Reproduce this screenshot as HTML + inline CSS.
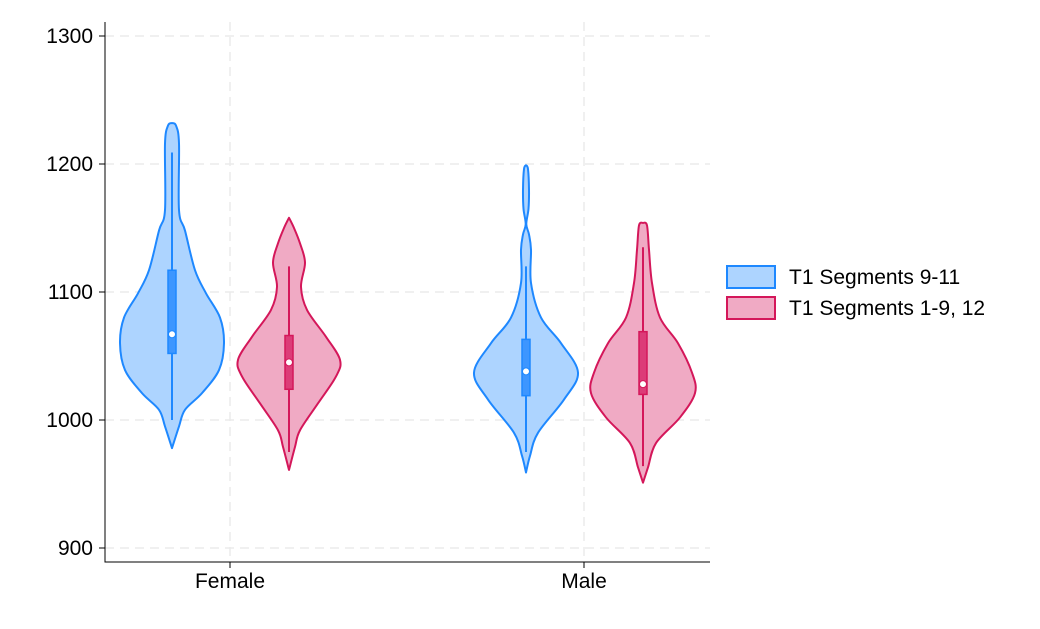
<!DOCTYPE html>
<html><head><meta charset="utf-8"><style>
body{margin:0;background:#fff;font-family:"Liberation Sans",Arial,sans-serif}
svg text{font-family:"Liberation Sans",Arial,sans-serif}
</style></head><body>
<svg id="chart" width="1040" height="624"></svg>
<script>
const categories=["Female","Male"];
const seriesNames=["T1 Segments 9-11","T1 Segments 1-9, 12"];
const yTicks=[900,1000,1100,1200,1300];
// density profiles: [value, half-width]
const femaleBlueDensity=[[1232,0],[1230,4],[1216,7],[1164,7],[1148,13],[1117,23],[1099,34],[1080,48],[1060,52],[1039,47],[1021,30],[1008,13],[995,7],[978,0]];
const femalePinkDensity=[[1158,0],[1150,5],[1138,11],[1123,16],[1104,12],[1086,18],[1065,37],[1047,51],[1034,47],[1013,29],[992,11],[979,6],[961,0]];
const maleBlueDensity=[[1199,0],[1196,2],[1180,3],[1165,2.5],[1153,0.3],[1145,3],[1133,5],[1107,5],[1080,15],[1060,35],[1037,52],[1016,38],[990,12],[972,4],[959,0]];
const malePinkDensity=[[1154,0],[1152,4],[1133,6],[1107,9],[1080,17],[1060,35],[1037,49],[1021,52],[1002,37],[982,13],[963,5],[951,0]];
// box stats: [whiskerLow, q1, median, q3, whiskerHigh]
const femaleBlueBox=[1000,1052,1067,1117,1209];
const femalePinkBox=[975,1024,1045,1066,1120];
const maleBlueBox=[975,1019,1038,1063,1120];
const malePinkBox=[964,1020,1028,1069,1135];

const svg=document.getElementById('chart');
const NS='http://www.w3.org/2000/svg';
const y=v=>36+(1300-v)*1.28;
const xCat=i=>[230,584][i];
const off=[-58,59];
const FS=21;
function mk(t,a,p){const e=document.createElementNS(NS,t);for(const k in a)e.setAttribute(k,a[k]);(p||svg).appendChild(e);return e;}
function smooth(pts){let d='';for(let i=0;i<pts.length-1;i++){const p0=pts[Math.max(i-1,0)],p1=pts[i],p2=pts[i+1],p3=pts[Math.min(i+2,pts.length-1)];
const c1=[p1[0]+(p2[0]-p0[0])/6,p1[1]+(p2[1]-p0[1])/6],c2=[p2[0]-(p3[0]-p1[0])/6,p2[1]-(p3[1]-p1[1])/6];
d+=' C'+c1[0]+' '+c1[1]+' '+c2[0]+' '+c2[1]+' '+p2[0]+' '+p2[1];}return d;}
yTicks.forEach(v=>{const g=mk('line',{x1:105,x2:710,y1:y(v),y2:y(v),stroke:'#ebebeb','stroke-width':1.5,'stroke-dasharray':'9,6'});


const tk=mk('line',{x1:99,x2:105,y1:y(v),y2:y(v),stroke:'#000'});


const t=mk('text',{x:93,y:y(v)+7,'text-anchor':'end','font-size':FS});t.textContent=v;

});
categories.forEach((c,i)=>{const g=mk('line',{x1:xCat(i),x2:xCat(i),y1:22,y2:562,stroke:'#ebebeb','stroke-width':1.5,'stroke-dasharray':'9,6'});


const tk=mk('line',{x1:xCat(i),x2:xCat(i),y1:562,y2:568,stroke:'#000'});


const t=mk('text',{x:xCat(i),y:588,'text-anchor':'middle','font-size':FS});t.textContent=c;

});
const ax=mk('path',{d:'M105 22V562H710',fill:'none',stroke:'#000','stroke-width':1});


const cols=[{fill:'#add4ff',stroke:'#1e88ff',box:'#3d96ff'},{fill:'#f0aac4',stroke:'#d4175a',box:'#dc3c78'}];
function violin(dens,box,ci,si,name){
  const cx=xCat(ci)+off[si],c=cols[si];
  const right=dens.map(p=>[cx+p[1],y(p[0])]);
  const left=dens.slice().reverse().map(p=>[cx-p[1],y(p[0])]);
  const d='M'+right[0][0]+' '+right[0][1]+smooth(right)+smooth(left)+'Z';
  const v=mk('path',{d:d,fill:c.fill,stroke:c.stroke,'stroke-width':2,'stroke-linejoin':'round'});
  
  
  const w=mk('line',{x1:cx,x2:cx,y1:y(box[0]),y2:y(box[4]),stroke:c.stroke,'stroke-width':2});
  
  
  const b=mk('rect',{x:cx-4,y:y(box[3]),width:8,height:y(box[1])-y(box[3]),fill:c.box,stroke:c.stroke,'stroke-width':1.5});
  
  
  const m=mk('circle',{cx:cx,cy:y(box[2]),r:3.5,fill:'#fff',stroke:c.stroke,'stroke-width':1});
  
  
}
violin(femaleBlueDensity,femaleBlueBox,0,0,'female-segments-9-11');
violin(femalePinkDensity,femalePinkBox,0,1,'female-segments-1-9-12');
violin(maleBlueDensity,maleBlueBox,1,0,'male-segments-9-11');
violin(malePinkDensity,malePinkBox,1,1,'male-segments-1-9-12');
seriesNames.forEach((s,i)=>{const c=cols[i];
const r=mk('rect',{x:727,y:266+i*31,width:48,height:22,fill:c.fill,stroke:c.stroke,'stroke-width':2});


const t=mk('text',{x:789,y:284+i*31,'font-size':FS});t.textContent=s;

});
</script>
</body></html>
